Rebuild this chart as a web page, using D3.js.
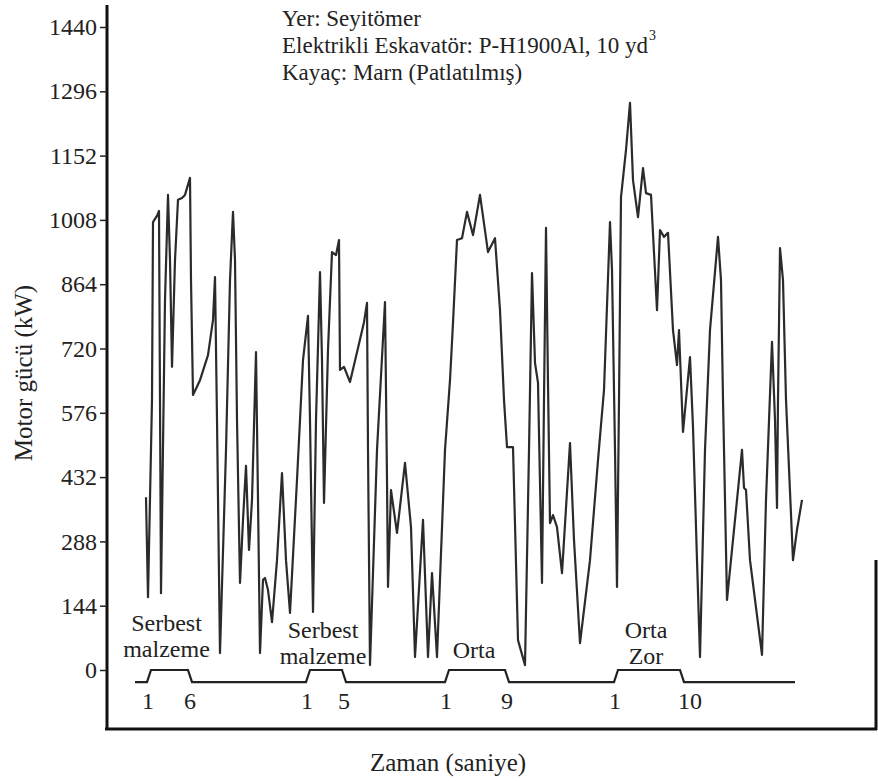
<!DOCTYPE html>
<html>
<head>
<meta charset="utf-8">
<script src="https://cdn.jsdelivr.net/npm/d3@7"></script>
<style>
  body { margin: 0; background: #fff; }
  text { font-family: "Liberation Serif", "Times New Roman", serif; fill: #222; }
</style>
</head>
<body>
<div id="wrapper"></div>
<script>
// Y axis ticks (kW)
var yTicks = [0, 144, 288, 432, 576, 720, 864, 1008, 1152, 1296, 1440];

// Motor power trace (time in seconds, power in kW)
var timeSec = [
  3.9, 4.1, 4.5, 4.6, 5.0, 5.2, 5.3, 5.4, 5.8, 6.1, 6.3, 6.5, 6.8, 7.1, 7.5, 7.8, 8.3, 8.4, 8.6, 9.3,
  10.1, 10.6, 10.8, 11.0, 11.3, 11.9, 12.3, 12.6, 12.8, 13.0, 13.3, 13.6, 13.9, 14.2, 14.5, 14.9, 15.1, 15.3, 15.6, 15.8,
  16.1, 16.5, 17.0, 17.5, 17.9, 18.3,
  19.0, 19.6, 20.1, 20.3, 20.6, 20.9, 21.3, 21.5, 21.7, 22.1, 22.5, 22.9, 23.2, 23.3, 23.7, 24.3, 25.1, 25.7, 26.0, 26.1,
  26.3, 27.0, 27.8, 28.0, 28.1, 28.4, 29.0, 29.8, 30.4, 30.8, 31.6, 32.1, 32.5, 33.0,
  33.8, 34.3, 34.6, 35.0, 35.5, 36.0, 36.6, 37.3, 38.1, 38.8, 39.3, 39.7, 40.0, 40.6, 41.1, 41.8, 42.2, 42.5, 42.8, 43.1,
  43.5, 43.7, 43.9, 44.1, 44.3, 44.6, 45.0, 45.5, 46.3, 46.7, 47.3,
  48.3, 49.1, 49.7, 50.3, 50.5, 50.8, 51.0, 51.2, 51.4, 51.9, 52.3, 52.6, 53.1, 53.6, 53.9, 54.4, 55.0, 55.3, 55.7, 56.1,
  56.6, 57.0, 57.2, 57.6, 58.3, 58.6, 59.0, 59.3, 59.8, 60.3, 61.1, 61.4, 61.6, 62.0, 62.8, 63.5, 63.7, 63.9, 64.3, 65.5,
  65.9, 66.5, 66.8, 67.0, 67.1, 67.3, 67.6, 67.9, 68.6, 69.0, 69.5
];
var powerKw = [
  387, 163, 605, 1003, 1017, 1028, 605, 172, 829, 1064, 918, 679, 918, 1053, 1057, 1064, 1102, 873, 616, 649,
  705, 784, 880, 560, 38, 493, 873, 1026, 918, 560, 195, 336, 457, 269, 381, 712, 381, 38, 202, 206,
  179, 107, 246, 441, 246, 128,
  426, 694, 793, 560, 130, 560, 891, 694, 374, 717, 936, 929, 963, 672, 679, 645, 721, 779, 822, 493,
  11, 493, 824, 425, 186, 403, 307, 464, 320, 29, 336, 29, 217, 29,
  493, 649, 777, 963, 967, 1026, 974, 1064, 936, 967, 806, 605, 499, 499, 67, 11, 493, 889, 688, 643,
  195, 605, 990, 643, 329, 347, 320, 217, 508, 291, 60,
  246, 470, 627, 1003, 896, 493, 186, 605, 1059, 1165, 1270, 1097, 1014, 1124, 1068, 1064, 806, 985, 970, 979,
  761, 683, 761, 533, 701, 544, 246, 29, 493, 761, 970, 873, 605, 157, 336, 493, 408, 403, 246, 34,
  381, 735, 560, 363, 605, 945, 873, 605, 246, 314, 381
];

// Digging cycles shown on the timeline under the trace
var cycleName = [["Serbest", "malzeme"], ["Serbest", "malzeme"], ["Orta"], ["Orta", "Zor"]];
var cycleStart = [4.2, 20.1, 34.0, 50.9];
var cycleEnd = [8.3, 23.7, 40.0, 57.5];
var startLabel = ["1", "1", "1", "1"];
var endLabel = ["6", "5", "9", "10"];
var timelineFrom = 2.8, timelineTo = 68.8;
var timelineLow = -27, timelineHigh = 0;

var infoLines = ["Yer: Seyitömer", "Elektrikli Eskavatör: P-H1900Al, 10 yd", "Kayaç: Marn (Patlatılmış)"];

var W = 878, H = 781;
var plotLeft = 107, plotRight = 877;

var svg = d3.select("#wrapper")
  .append("svg")
  .attr("width", W)
  .attr("height", H);

var x = d3.scaleLinear()
  .domain([0, 77])
  .range([plotLeft, plotRight]);

var y = d3.scaleLinear()
  .domain([0, 1440])
  .range([670, 27]);

// Frame: thick left axis, bottom and right border
svg.append("line")
  .attr("x1", plotLeft).attr("x2", plotLeft)
  .attr("y1", 5).attr("y2", 730)
  .attr("stroke", "#111").attr("stroke-width", 3);
svg.append("line")
  .attr("x1", 105).attr("x2", 877)
  .attr("y1", 729).attr("y2", 729)
  .attr("stroke", "#111").attr("stroke-width", 3);
svg.append("line")
  .attr("x1", 876).attr("x2", 876)
  .attr("y1", 560).attr("y2", 730)
  .attr("stroke", "#111").attr("stroke-width", 3);

// Y axis
var yAxis = svg.append("g")
  .attr("transform", "translate(" + plotLeft + ",0)")
  .call(d3.axisLeft(y).tickValues(yTicks).tickFormat(d3.format("d"))
    .tickSize(7).tickPadding(3).tickSizeOuter(0));
yAxis.select(".domain").remove();
yAxis.selectAll(".tick line").attr("stroke", "#222").attr("stroke-width", 1.5);
yAxis.selectAll(".tick text")
  .style("font-family", "'Liberation Serif', serif")
  .style("font-size", "24px")
  .attr("fill", "#222");

// Axis titles
svg.append("text")
  .attr("transform", "translate(32,373) rotate(-90)")
  .style("text-anchor", "middle")
  .style("font-size", "25px")
  .text("Motor gücü (kW)");

svg.append("text")
  .attr("x", 448)
  .attr("y", 771)
  .style("text-anchor", "middle")
  .style("font-size", "25px")
  .text("Zaman (saniye)");

// Info block
svg.selectAll(".info")
  .data(infoLines)
  .enter()
  .append("text")
  .attr("class", "info")
  .attr("x", 282)
  .attr("y", function (d, i) { return 26 + i * 27; })
  .style("font-size", "23px")
  .text(function (d) { return d; });
var yd = svg.selectAll(".info").filter(function (d, i) { return i === 1; });
var ydEnd = 282 + yd.node().getComputedTextLength();
svg.append("text")
  .attr("x", ydEnd + 1)
  .attr("y", 40)
  .style("font-size", "14px")
  .text("3");

// Power trace
var line = d3.line()
  .x(function (d, i) { return x(timeSec[i]); })
  .y(function (d) { return y(d); });

svg.append("path")
  .datum(powerKw)
  .attr("fill", "none")
  .attr("stroke", "#2b2b2b")
  .attr("stroke-width", 2.2)
  .attr("stroke-linejoin", "round")
  .attr("d", line);

// Timeline with cycle steps
var steps = [[timelineFrom, timelineLow]];
cycleStart.forEach(function (s, i) {
  steps.push([s - 0.2, timelineLow], [s + 0.2, timelineHigh],
             [cycleEnd[i] - 0.2, timelineHigh], [cycleEnd[i] + 0.2, timelineLow]);
});
steps.push([timelineTo, timelineLow]);

svg.append("path")
  .datum(steps)
  .attr("fill", "none")
  .attr("stroke", "#222")
  .attr("stroke-width", 2.2)
  .attr("d", d3.line().x(function (d) { return x(d[0]); }).y(function (d) { return y(d[1]); }));

var nameTop = [631, 638, 658, 638];
cycleName.forEach(function (names, i) {
  var mid = (cycleStart[i] + cycleEnd[i]) / 2 - 0.3;
  names.forEach(function (n, j) {
    svg.append("text")
      .attr("x", x(mid))
      .attr("y", nameTop[i] + j * 26)
      .style("text-anchor", "middle")
      .style("font-size", "24px")
      .text(n);
  });
  svg.append("text")
    .attr("x", x(cycleStart[i]) - 1)
    .attr("y", 709)
    .style("text-anchor", "middle")
    .style("font-size", "24px")
    .text(startLabel[i]);
  svg.append("text")
    .attr("x", x(cycleEnd[i]) + (endLabel[i].length > 1 ? 8 : 0))
    .attr("y", 709)
    .style("text-anchor", "middle")
    .style("font-size", "24px")
    .text(endLabel[i]);
});
</script>
</body>
</html>
